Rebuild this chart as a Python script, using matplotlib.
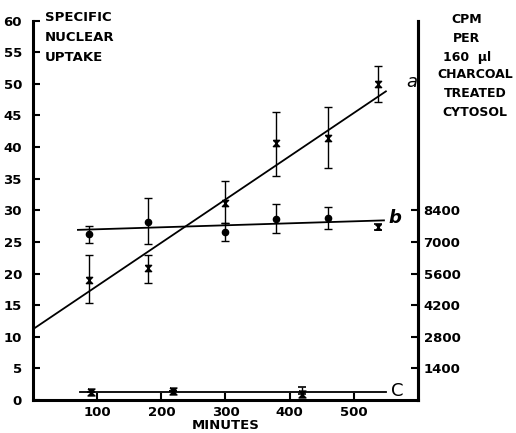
import matplotlib.pyplot as plt

# dados
minutos_a = [88, 179, 300, 378, 459, 537]
captacao_a = [19.0, 20.8, 31.2, 40.6, 41.4, 50.0]
a_baixo = [15.4, 18.5, 28.0, 35.4, 36.7, 47.1]
a_cima = [22.9, 23.0, 34.6, 45.5, 46.4, 52.8]

minutos_b = [88, 179, 300, 378, 459]
captacao_b = [26.2, 28.1, 26.6, 28.6, 28.8]
b_baixo = [24.9, 24.6, 25.2, 26.4, 27.0]
b_cima = [27.5, 31.9, 28.0, 31.0, 30.5]

minutos_b_extra = [537]
captacao_b_extra = [27.4]

minutos_c = [90, 218, 420]
captacao_c = [1.2, 1.4, 1.0]
c_cima = [1.2, 1.4, 2.0]

# retas ajustadas (pontos extremos)
reta_a_x = [0, 550]
reta_a_y = [11.2, 48.8]
reta_b_x = [70, 547]
reta_b_y = [26.9, 28.4]
reta_c_x = [73, 550]
reta_c_y = [1.3, 1.3]

ticks_x = [100, 200, 300, 400, 500]
ticks_esq = list(range(0, 61, 5))
ticks_dir = [1400, 2800, 4200, 5600, 7000, 8400]

plt.rcParams['font.family'] = 'DejaVu Sans'
plt.rcParams['font.weight'] = 'bold'

ampulheta = [(-1, 1), (1, 1), (-1, -1), (1, -1), (-1, 1)]

fig = plt.figure(figsize=(5.16, 4.33), dpi=100)
ax = fig.add_axes([0.064, 0.0762, 0.746, 0.8764])

ax.plot(reta_a_x, reta_a_y, color='black', lw=1.3)
ax.plot(reta_b_x, reta_b_y, color='black', lw=1.3)
ax.plot(reta_c_x, reta_c_y, color='black', lw=1.3)

err_a = [[y - lo for y, lo in zip(captacao_a, a_baixo)],
         [hi - y for y, hi in zip(captacao_a, a_cima)]]
ax.errorbar(minutos_a, captacao_a, yerr=err_a, fmt='none', ecolor='black',
            elinewidth=1.0, capsize=2.6, capthick=1.0)
ax.plot(minutos_a, captacao_a, ls='none', marker=ampulheta, ms=4.5,
        color='black')

err_b = [[y - lo for y, lo in zip(captacao_b, b_baixo)],
         [hi - y for y, hi in zip(captacao_b, b_cima)]]
ax.errorbar(minutos_b, captacao_b, yerr=err_b, fmt='o', ms=4.5, color='black',
            elinewidth=1.0, capsize=2.6, capthick=1.0)
ax.errorbar(minutos_b_extra, captacao_b_extra, yerr=0.5, fmt='none',
            ecolor='black', elinewidth=1.0, capsize=2.6, capthick=1.2)
ax.plot(minutos_b_extra, captacao_b_extra, ls='none', marker=ampulheta,
        ms=4.0, color='black')

err_c = [[0, 0, 0], [hi - y for y, hi in zip(captacao_c, c_cima)]]
ax.errorbar(minutos_c, captacao_c, yerr=err_c, fmt='none', ecolor='black',
            elinewidth=1.0, capsize=3, capthick=1.2)
ax.plot(minutos_c, captacao_c, ls='none', marker=ampulheta, ms=5,
        color='black')

ax.set_xlim(0, 600)
ax.set_ylim(0, 60)
ax.set_xticks(ticks_x)
ax.set_yticks(ticks_esq)
ax.tick_params(axis='both', direction='in', length=5, width=1.5,
               labelsize=9.5)
ax.tick_params(axis='y', pad=8)
ax.tick_params(axis='x', pad=4)
ax.spines['top'].set_visible(False)
for s in ['left', 'bottom', 'right']:
    ax.spines[s].set_linewidth(2.2)

ax2 = ax.twinx()
ax2.set_ylim(0, 60 * 280)
ax2.set_yticks(ticks_dir)
ax2.tick_params(axis='y', direction='in', length=5, width=1.5,
                labelsize=9.5, pad=4)
ax2.spines['top'].set_visible(False)
ax2.spines['right'].set_linewidth(2.2)

# rótulos das curvas
fig.text(406 / 516, 1 - 82 / 433, 'a', fontsize=13, style='italic',
         fontweight='normal', va='center', ha='left')
fig.text(388 / 516, 1 - 218 / 433, 'b', fontsize=13, style='italic',
         va='center', ha='left')
fig.text(391 / 516, 1 - 391 / 433, 'C', fontsize=13, fontweight='normal',
         va='center', ha='left')

fig.text(45 / 516, 1 - 11 / 433, 'SPECIFIC\nNUCLEAR\nUPTAKE', fontsize=9.5,
         va='top', ha='left', linespacing=1.7)
fig.text(467 / 516, 1 - 13 / 433, 'CPM\nPER\n160  µl', fontsize=9,
         va='top', ha='center', linespacing=1.6)
fig.text(475 / 516, 1 - 68 / 433, 'CHARCOAL\nTREATED\nCYTOSOL', fontsize=9,
         va='top', ha='center', linespacing=1.6)

ax.set_xlabel('MINUTES', fontsize=9.5, fontweight='bold', labelpad=0)

fig.savefig('out.png', dpi=100)
